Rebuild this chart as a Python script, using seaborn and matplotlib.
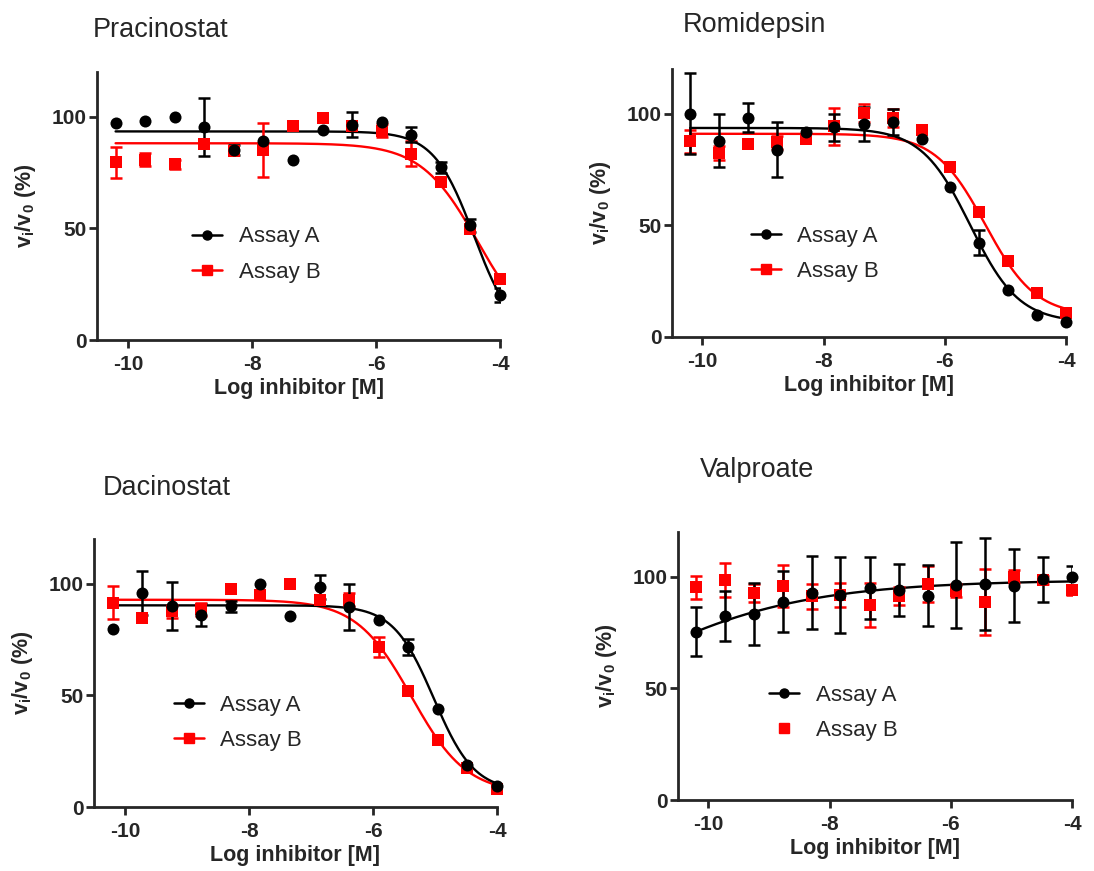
import numpy as np
import pandas as pd
import matplotlib
matplotlib.use('Agg')
import matplotlib.pyplot as plt
from matplotlib.lines import Line2D
import seaborn as sns

sns.set_theme(style='ticks')
plt.rcParams['font.family'] = ['Liberation Sans', 'DejaVu Sans']
plt.rcParams['mathtext.fontset'] = 'custom'
plt.rcParams['mathtext.rm'] = 'Liberation Sans:bold'
plt.rcParams['mathtext.bf'] = 'Liberation Sans:bold'
plt.rcParams['axes.unicode_minus'] = False

# --- data ---
log_conc = [-10.2, -9.72, -9.25, -8.77, -8.29, -7.82, -7.34, -6.86, -6.38, -5.91, -5.43, -4.95, -4.48, -4.0]

prac_a = [97.2, 97.9, 99.7, 95.5, 85.1, 89.0, 80.7, 94.0, 96.4, 97.8, 92.0, 77.4, 51.3, 20.1]
prac_a_err = [0, 0, 0, 13, 2.2, 0, 0, 0, 5.5, 0, 3.5, 2.5, 3, 3]
prac_b = [79.6, 80.7, 78.6, 87.8, 84.8, 85.1, 95.7, 99.4, 95.8, 93.7, 83.3, 70.7, 49.8, 27.5]
prac_b_err = [7, 3, 2, 0, 0, 12, 0, 0, 0, 3, 5.6, 0, 0, 0]

romi_a = [100.0, 87.9, 98.1, 83.9, 91.8, 93.9, 95.5, 96.1, 88.8, 67.0, 42.1, 21.2, 10.0, 6.6]
romi_a_err = [18, 12, 6.5, 12.3, 0, 6, 7.7, 5.8, 0, 0, 5.6, 0, 0, 0]
romi_b = [87.6, 82.4, 86.4, 87.2, 88.8, 94.3, 100.3, 98.1, 92.5, 76.1, 55.8, 33.9, 19.7, 10.7]
romi_b_err = [5, 3, 0, 3, 0, 8.4, 4, 4, 0, 0, 0, 0, 0, 0]

daci_a = [79.6, 95.8, 90.0, 86.1, 89.9, 100.0, 85.4, 98.5, 89.6, 83.9, 71.6, 44.0, 18.7, 9.3]
daci_a_err = [0, 9.7, 10.8, 5, 2.5, 0, 0, 5.2, 10.4, 0, 3.5, 0, 0, 0]
daci_b = [91.5, 84.8, 87.6, 88.5, 97.5, 95.1, 100.0, 92.8, 92.8, 71.6, 51.8, 29.9, 17.5, 8.2]
daci_b_err = [7.4, 0, 3, 3, 0, 0, 0, 0, 3, 4.5, 0, 0, 0, 0]

valp_a = [75.4, 82.4, 83.3, 88.8, 92.8, 91.8, 94.8, 94.0, 91.5, 96.3, 96.7, 96.0, 98.8, 100.0]
valp_a_err = [10.8, 11.4, 14, 13.6, 16.4, 17, 13.8, 11.6, 13.8, 19.3, 20.7, 16.3, 10, 4.8]
valp_b = [95.2, 98.5, 92.8, 95.8, 91.3, 91.8, 87.3, 91.3, 96.7, 93.7, 88.8, 100.0, 98.5, 94.0]
valp_b_err = [5, 7.5, 4, 9.6, 5.6, 5.5, 9.9, 4, 8, 3, 14.7, 3, 2, 2]

# 4PL fit parameters: bottom, top, logIC50, hill
prac_fit_a = [0, 93.4, -4.42, 1.34]
prac_fit_b = [0, 88.1, -4.36, 0.95]
romi_fit_a = [6.5, 93.6, -5.58, 1.08]
romi_fit_b = [9.5, 91.0, -5.33, 1.05]
daci_fit_a = [7.0, 90.3, -5.02, 1.33]
daci_fit_b = [6.0, 92.8, -5.38, 0.975]
valp_fit_a = [0, 98.5, -12.1, -0.27]

titles = ['Pracinostat', 'Romidepsin', 'Dacinostat', 'Valproate']
labels = ['Assay A', 'Assay B']


def fourpl(x, p):
    bottom, top, c, h = p
    return bottom + (top - bottom) / (1 + 10 ** ((x - c) * h))


panels = [
    (prac_a, prac_a_err, prac_b, prac_b_err, prac_fit_a, prac_fit_b),
    (romi_a, romi_a_err, romi_b, romi_b_err, romi_fit_a, romi_fit_b),
    (daci_a, daci_a_err, daci_b, daci_b_err, daci_fit_a, daci_fit_b),
    (valp_a, valp_a_err, valp_b, valp_b_err, valp_fit_a, None),
]

# axes boxes in figure pixels: left, right, top(y=120), bottom(y=0)
W, H = 1094, 871
boxes = [(97, 500, 72, 340), (672, 1066, 69, 337), (94, 497, 539, 807), (678, 1072, 532, 800)]
title_pos = [(93, 37), (683, 32), (103, 495), (700, 477)]
leg_pos = [(0.236, 0.319), (0.200, 0.310), (0.198, 0.314), (0.232, 0.325)]

fig = plt.figure(figsize=(W / 100, H / 100), dpi=100)
xfit = np.linspace(log_conc[0], log_conc[-1], 300)

for i, (ya, ea, yb, eb, fa, fb) in enumerate(panels):
    l, r, t, b = boxes[i]
    ax = fig.add_axes([l / W, 1 - b / H, (r - l) / W, (b - t) / H])

    # Assay B (red) first, black on top
    series = [(yb, eb, fb, 'red', 's'), (ya, ea, fa, 'black', 'o')]
    for y, e, f, col, mk in series:
        if f is not None:
            sns.lineplot(x=xfit, y=fourpl(xfit, f), color=col, lw=1.7, ax=ax, zorder=2)
        err = np.array(e, dtype=float)
        m = err > 0
        ax.errorbar(np.array(log_conc)[m], np.array(y)[m], yerr=err[m], fmt='none',
                    ecolor=col, elinewidth=1.8, capsize=4.5, capthick=1.8, zorder=3)
        sns.scatterplot(x=log_conc, y=y, color=col, marker=mk, s=75, linewidth=0,
                        ax=ax, zorder=4, clip_on=False)

    ax.set_xlim(-10.5, -4)
    ax.set_ylim(0, 120)
    ax.set_xticks([-10, -8, -6, -4])
    ax.set_yticks([0, 50, 100])
    sns.despine(ax=ax)
    for s in ['left', 'bottom']:
        ax.spines[s].set_linewidth(2)
    ax.tick_params(axis='both', width=2, length=6, labelsize=15)
    ax.tick_params(axis='y', pad=1.5)
    ax.tick_params(axis='x', pad=5)
    for lab in ax.get_xticklabels() + ax.get_yticklabels():
        lab.set_fontweight('bold')
    ax.set_xlabel('Log inhibitor [M]', fontsize=15.5, fontweight='bold', labelpad=3)
    ax.set_ylabel(r'v$_\mathbf{i}$/v$_\mathbf{0}$ (%)', fontsize=15.5,
                  fontweight='bold', labelpad=10)

    handles = [Line2D([], [], color='black', marker='o', lw=1.8, ms=6.5)]
    if fb is None:
        handles.append(Line2D([], [], color='red', marker='s', lw=0, ms=7))
    else:
        handles.append(Line2D([], [], color='red', marker='s', lw=1.8, ms=6.5))
    ax.legend(handles, labels, loc='center left', bbox_to_anchor=leg_pos[i],
              frameon=False, fontsize=16, borderpad=0, borderaxespad=0,
              handlelength=1.35, handletextpad=0.75, labelspacing=0.65)

    tx, ty = title_pos[i]
    fig.text(tx / W, 1 - ty / H, titles[i], fontsize=19.5, ha='left', va='baseline')

fig.savefig('out.png', dpi=100)
